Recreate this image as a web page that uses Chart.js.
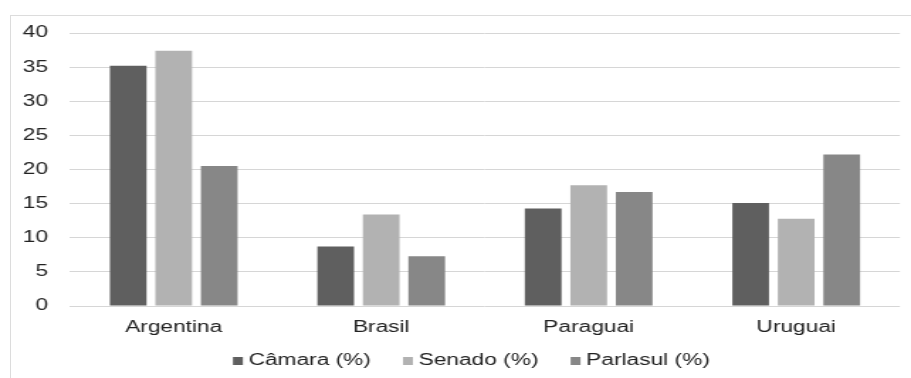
<!DOCTYPE html>
<html>
<head>
<meta charset="utf-8">
<script src="https://cdn.jsdelivr.net/npm/chart.js@4/dist/chart.umd.min.js"></script>
<style>
  html, body { margin: 0; padding: 0; background: #ffffff; overflow: hidden; }
  body { width: 911px; height: 378px; position: relative; }
  #frame {
    position: absolute; left: 10px; top: 15px; width: 920px; height: 400px;
    border: 1px solid #dcdcdc; box-sizing: border-box;
  }
  #wrap {
    position: absolute; left: 0; top: 0; width: 642px; height: 378px;
    transform: scaleX(1.41900); transform-origin: 0 0;
  }
</style>
</head>
<body>
<div id="frame"></div>
<div id="wrap"><canvas id="chart"></canvas></div>
<script>
// Categories and series (percentages)
const categories = ['Argentina', 'Brasil', 'Paraguai', 'Uruguai'];
const camara   = [35.2, 8.7, 14.3, 15.1];
const senado   = [37.4, 13.4, 17.7, 12.8];
const parlasul = [20.5, 7.3, 16.7, 22.2];
const seriesLabels = ['Câmara (%)', 'Senado (%)', 'Parlasul (%)'];
const yTicks = [0, 5, 10, 15, 20, 25, 30, 35, 40];

const colors = ['#5f5f5f', '#b2b2b2', '#878787'];
const FONT = 'Liberation Sans, Arial, sans-serif';
const TEXT = '#222222';

Chart.defaults.font.family = FONT;
Chart.defaults.font.size = 16;
Chart.defaults.color = TEXT;

// Legend drawn beneath the axis: small square swatch followed by its label
const bottomLegend = {
  id: 'bottomLegend',
  afterDraw(chart) {
    const ctx = chart.ctx;
    const boxW = 7, boxH = 8, gap = 4, itemGap = 22.6;
    const cy = 361;
    ctx.save();
    ctx.font = '16px ' + FONT;
    ctx.textBaseline = 'middle';
    ctx.textAlign = 'left';
    const items = chart.data.datasets.map(ds => ({
      text: ds.label, color: ds.backgroundColor, w: ctx.measureText(ds.label).width
    }));
    const total = items.reduce((s, it) => s + boxW + gap + it.w, 0) + itemGap * (items.length - 1);
    let x = 332.2 - total / 2;
    items.forEach(it => {
      ctx.fillStyle = it.color;
      ctx.fillRect(x, cy - boxH / 2, boxW, boxH);
      ctx.fillStyle = TEXT;
      ctx.fillText(it.text, x + boxW + gap, cy);
      x += boxW + gap + it.w + itemGap;
    });
    ctx.restore();
  }
};

const seriesData = [camara, senado, parlasul];

new Chart(document.getElementById('chart'), {
  type: 'bar',
  data: {
    labels: categories,
    datasets: seriesLabels.map((label, i) => ({
      label,
      data: seriesData[i],
      backgroundColor: colors[i],
      borderWidth: 0,
      categoryPercentage: 0.658,
      barPercentage: 0.806
    }))
  },
  options: {
    responsive: true,
    maintainAspectRatio: false,
    animation: false,
    layout: { padding: { left: 0, top: 33, right: 7.8, bottom: 22 } },
    plugins: {
      legend: { display: false },
      tooltip: { enabled: false }
    },
    scales: {
      x: {
        grid: { display: false },
        border: { display: false },
        ticks: { padding: 4, color: TEXT, font: { size: 16 } },
        afterFit(scale) { scale.height = 50; }
      },
      y: {
        min: 0,
        max: 40,
        afterBuildTicks(scale) { scale.ticks = yTicks.map(v => ({ value: v })); },
        grid: { color: '#d6d6d6', lineWidth: 1, drawTicks: false },
        border: { display: false },
        ticks: { padding: 15.5, color: TEXT, font: { size: 16 } },
        afterFit(scale) { scale.width = 49.3; }
      }
    }
  },
  plugins: [bottomLegend]
});
</script>
</body>
</html>
